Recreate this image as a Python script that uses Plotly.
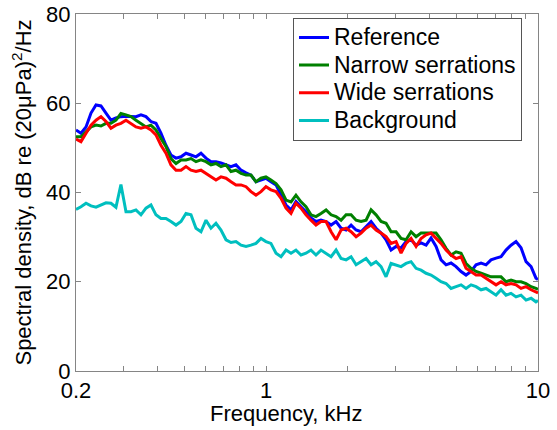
import plotly.graph_objects as go

freq_khz = [0.200, 0.2086, 0.2177, 0.2271, 0.2369, 0.2471, 0.2578, 0.2689, 0.2805, 0.2926,
            0.3054, 0.3186, 0.3323, 0.3467, 0.3617, 0.3773, 0.3936, 0.4106, 0.4283, 0.4468,
            0.4664, 0.4866, 0.5076, 0.5295, 0.5524, 0.5763, 0.6012, 0.6271, 0.6542, 0.6825,
            0.7123, 0.743, 0.775, 0.809, 0.844, 0.880, 0.918, 0.958, 0.999, 1.042,
            1.088, 1.135, 1.184, 1.235, 1.288, 1.344, 1.402, 1.463, 1.526, 1.592,
            1.662, 1.734, 1.809, 1.887, 1.969, 2.054, 2.143, 2.235, 2.332, 2.433,
            2.538, 2.648, 2.762, 2.882, 3.006, 3.136, 3.272, 3.413, 3.561, 3.715,
            3.876, 4.043, 4.218, 4.400, 4.591, 4.789, 4.996, 5.212, 5.437, 5.672,
            5.918, 6.174, 6.440, 6.719, 7.009, 7.312, 7.628, 7.958, 8.302, 8.661,
            9.038, 9.43, 9.83, 10.0]

reference = [54.0, 53.3, 54.7, 57.8, 59.6, 59.4, 57.8, 56.2, 56.7, 57.0,
             57.1, 57.1, 57.0, 57.4, 57.0, 55.9, 55.5, 53.3, 50.6, 48.4,
             47.7, 48.0, 48.8, 48.4, 48.0, 48.8, 47.7, 46.9, 46.9, 46.6,
             46.2, 45.8, 46.2, 45.0, 44.4, 43.9, 42.4, 42.8, 43.2, 42.4,
             41.7, 39.4, 37.2, 36.1, 38.0, 36.8, 35.7, 34.3, 33.5, 33.8,
             33.5, 32.7, 33.5, 32.0, 31.6, 32.7, 31.6, 31.2, 32.3, 33.5,
             32.0, 30.9, 29.4, 27.1, 27.9, 27.6, 29.0, 29.4, 28.2, 28.7,
             28.2, 29.8, 27.9, 24.9, 23.8, 24.2, 23.4, 22.3, 21.5, 22.3,
             23.8, 24.2, 23.8, 24.9, 25.3, 25.6, 27.1, 28.2, 29.0, 27.6,
             24.5, 23.4, 20.8, 20.5]

narrow = [52.5, 52.5, 53.6, 54.7, 55.1, 54.9, 55.5, 55.5, 56.2, 57.7,
          57.4, 57.0, 56.2, 55.5, 54.7, 55.1, 54.0, 52.1, 50.3, 47.6,
          46.5, 47.3, 47.3, 47.6, 46.9, 47.3, 46.9, 46.2, 46.5, 45.8,
          46.2, 44.7, 45.0, 44.3, 43.9, 43.9, 42.4, 43.2, 43.5, 42.8,
          42.0, 40.6, 38.3, 37.9, 39.4, 37.9, 36.8, 35.0, 34.6, 35.3,
          36.1, 35.0, 34.6, 33.8, 35.0, 35.0, 33.8, 33.5, 33.8, 36.1,
          35.0, 33.5, 33.1, 31.2, 31.2, 29.7, 29.4, 31.2, 30.1, 30.9,
          30.9, 30.9, 30.9, 29.4, 27.5, 26.0, 26.7, 26.4, 24.1, 23.0,
          22.3, 21.9, 21.5, 21.1, 21.1, 21.1, 20.0, 20.4, 20.0, 20.0,
          19.6, 18.9, 18.5, 18.3]

wide = [52.0, 51.4, 53.3, 55.1, 56.2, 57.0, 55.9, 54.4, 55.1, 55.5,
        56.2, 55.5, 54.7, 54.4, 54.7, 54.0, 52.9, 50.6, 48.8, 46.2,
        45.0, 45.0, 45.8, 45.0, 44.7, 45.0, 44.3, 43.5, 42.8, 43.5,
        43.2, 42.4, 41.7, 41.7, 41.3, 40.2, 39.4, 40.2, 41.3, 40.6,
        40.2, 38.7, 36.5, 35.3, 37.6, 36.5, 35.0, 33.8, 32.7, 33.5,
        33.5, 31.2, 29.4, 31.6, 32.0, 31.2, 30.1, 30.9, 32.0, 32.7,
        31.6, 30.9, 30.1, 28.6, 29.0, 26.4, 28.6, 29.7, 27.9, 29.7,
        30.5, 30.9, 29.7, 28.6, 27.1, 26.0, 25.2, 25.6, 23.0, 22.3,
        21.5, 21.5, 20.8, 20.0, 19.3, 20.0, 19.3, 19.6, 19.3, 18.5,
        18.9, 18.2, 17.8, 17.5]

background = [36.2, 36.8, 37.6, 37.0, 36.7, 37.2, 37.7, 37.6, 36.7, 41.8,
              35.7, 35.7, 36.1, 35.0, 36.5, 37.2, 35.0, 34.2, 34.2, 33.5,
              32.7, 33.5, 35.3, 35.0, 32.0, 31.2, 33.8, 32.0, 33.1, 31.6,
              29.4, 28.8, 29.0, 28.2, 27.9, 28.2, 28.6, 29.7, 29.0, 28.6,
              26.4, 25.6, 27.1, 26.4, 27.1, 26.0, 26.4, 27.1, 26.0, 27.1,
              26.4, 25.6, 27.1, 25.2, 24.9, 25.6, 23.8, 24.5, 25.2, 23.8,
              24.5, 23.4, 21.1, 24.1, 23.8, 23.4, 24.1, 24.5, 23.0, 22.6,
              21.9, 21.5, 20.8, 20.0, 19.6, 18.5, 18.9, 19.3, 18.5, 19.3,
              18.9, 18.2, 18.5, 17.8, 17.0, 18.2, 17.0, 17.4, 16.6, 17.0,
              15.9, 16.3, 15.5, 15.8]

series_names = ["Reference", "Narrow serrations", "Wide serrations", "Background"]
series_colors = ["#0000ff", "#008000", "#ff0000", "#00bfbf"]
series_values = [reference, narrow, wide, background]

x_tickvals = [0.2, 0.3, 0.4, 0.5, 0.6, 0.7, 0.8, 0.9, 1, 2, 3, 4, 5, 6, 7, 8, 9, 10]
x_ticktext = ["0.2", "", "", "", "", "", "", "", "1", "", "", "", "", "", "", "", "", "10"]
y_tickvals = [0, 20, 40, 60, 80]

fig = go.Figure()
for i, (name, color, vals) in enumerate(zip(series_names, series_colors, series_values)):
    fig.add_trace(go.Scatter(
        x=freq_khz, y=vals, mode="lines",
        name=f"<span style='font-size:23px'>{name}</span>",
        legendgroup=f"g{i}",
        line=dict(color=color, width=3),
    ))

axis_color = "#858585"
font_family = "Liberation Sans, Arial, sans-serif"

fig.update_layout(
    width=557, height=430,
    margin=dict(l=76, r=19, t=14, b=59, autoexpand=False),
    paper_bgcolor="white", plot_bgcolor="white",
    font=dict(family=font_family, color="black", size=21),
    showlegend=True,
    legend=dict(
        x=0.4697, y=0.99, xanchor="left", yanchor="top",
        bgcolor="white", bordercolor="#555555", borderwidth=1,
        font=dict(size=19, family=font_family, color="black"),
        tracegroupgap=0,
    ),
    xaxis=dict(
        type="log", range=[-0.69897, 1.0], automargin=False,
        tickvals=x_tickvals, ticktext=x_ticktext,
        ticks="inside", ticklen=5, tickcolor=axis_color,
        showline=True, linecolor=axis_color, linewidth=1, mirror="ticks",
        showgrid=False, zeroline=False,
        tickfont=dict(size=22),
    ),
    yaxis=dict(
        range=[0, 80], tickvals=y_tickvals, automargin=False,
        ticks="inside", ticklen=5, tickcolor=axis_color,
        showline=True, linecolor=axis_color, linewidth=1, mirror="ticks",
        showgrid=False, zeroline=False,
        tickfont=dict(size=22),
        title=dict(text="Spectral density, dB re (20μPa)<sup>2</sup>/Hz",
                   font=dict(size=22), standoff=8),
    ),
    annotations=[dict(
        text="Frequency, kHz", xref="paper", yref="paper",
        x=0.4545, y=-0.12, xanchor="center", yanchor="middle",
        showarrow=False, font=dict(size=22),
    )],
)

fig.write_html("out.html")
